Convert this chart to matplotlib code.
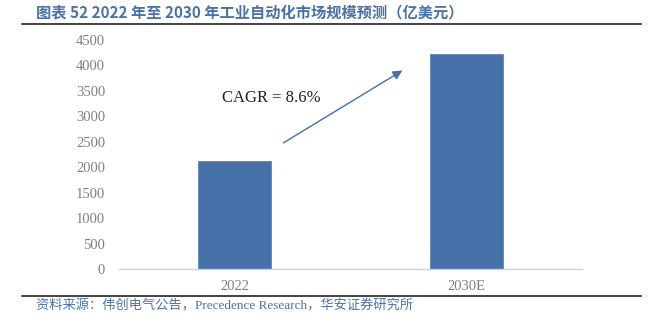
import matplotlib
matplotlib.use("Agg")
import matplotlib.pyplot as plt
from matplotlib.lines import Line2D

# --- Data --- #
categories = ["2022", "2030E"]
values = [2130, 4220]
yticks = [0, 500, 1000, 1500, 2000, 2500, 3000, 3500, 4000, 4500]
title = "图表 52 2022 年至 2030 年工业自动化市场规模预测（亿美元）"
source = "资料来源：伟创电气公告，Precedence Research，华安证券研究所"
cagr_label = "CAGR = 8.6%"

# --- Plotting --- #
bar_color = "#4570A8"
text_blue = "#4A72A8"
serif = ["Liberation Serif", "DejaVu Serif"]
cjk = ["Noto Sans CJK SC", "DejaVu Sans"]

fig = plt.figure(figsize=(6.62, 3.28), dpi=100)
ax = fig.add_axes([0.1798, 0.1799, 0.699, 0.698])

x = range(len(categories))
ax.bar(x, values, width=0.315, color=bar_color, edgecolor="#5A86BE", linewidth=0.6, zorder=2)
ax.set_xlim(-0.5, 1.5)
ax.set_ylim(0, 4500)
ax.set_yticks(yticks)
ax.set_yticklabels([str(v) for v in yticks], family=serif, fontsize=10.5, color="#7F7F7F")
ax.set_xticks(list(x))
ax.set_xticklabels(categories, family=serif, fontsize=10.5, color="#7F7F7F")
ax.tick_params(length=0, pad=8)
ax.tick_params(axis="y", pad=10)
for side in ["top", "right", "left"]:
    ax.spines[side].set_visible(False)
ax.spines["bottom"].set_color("#D0D0D0")
ax.spines["bottom"].set_linewidth(1.0)

# CAGR annotation
ax.annotate("", xy=(0.735, 3930), xytext=(0.2, 2450),
            arrowprops=dict(arrowstyle="-|>", color=bar_color, lw=1.0, mutation_scale=14))
ax.text(-0.055, 3355, cagr_label, family=serif, fontsize=12, color="#222222", va="center")

# title + footer
fig.text(0.054, 0.962, title, family=cjk, fontsize=11, fontweight="bold", color=text_blue, va="center")
fig.add_artist(Line2D([0.033, 0.968], [0.927, 0.927], color="#222222", lw=1.2))
fig.add_artist(Line2D([0.033, 0.968], [0.097, 0.097], color="#222222", lw=1.2))
fig.text(0.055, 0.066, source, family=["Liberation Serif", "Noto Sans CJK SC"], fontsize=9.5,
         color=text_blue, va="center")

fig.savefig("out.png", dpi=100)
